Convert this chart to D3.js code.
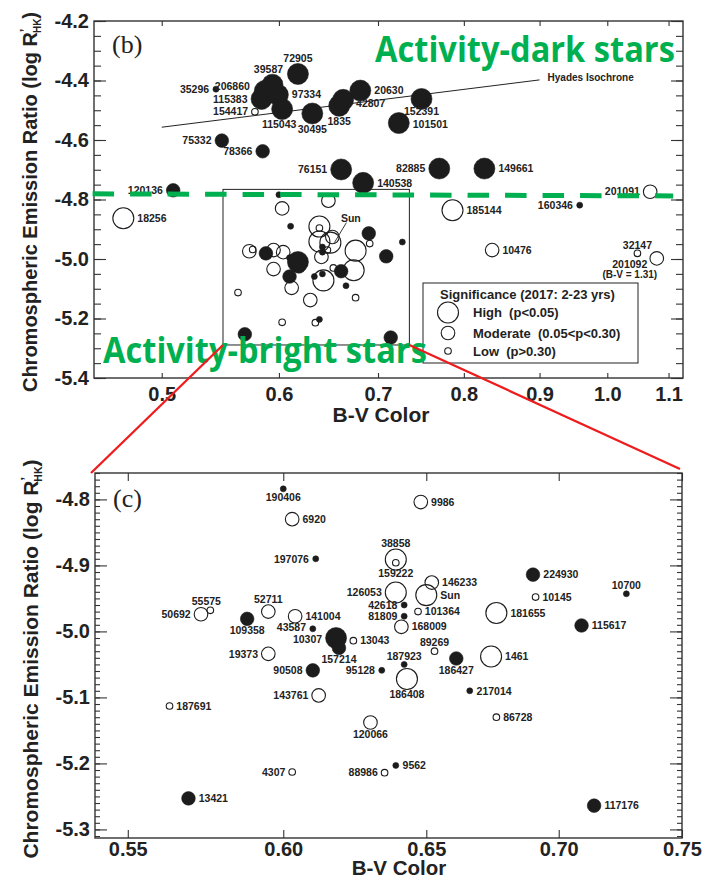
<!DOCTYPE html>
<html>
<head>
<meta charset="utf-8">
<script src="https://cdn.jsdelivr.net/npm/d3@7"></script>
<style>
  html, body { margin: 0; padding: 0; background: #fff; }
  svg { display: block; }
</style>
</head>
<body>
<svg id="chart" width="704" height="879"></svg>
<script>
// ---------- Panel (b): full sample outside the zoom window ----------
const starsB  = ["72905","39587","206860","35296","115383","97334","154417","115043","30495","1835",
                 "42807","20630","152391","101501","75332","78366","76151","140538","82885","149661",
                 "120136","201091","160346","185144","10476","32147","201092","18256"];
const bvB     = [0.618,0.594,0.587,0.544,0.584,0.599,0.578,0.603,0.632,0.659,
                 0.663,0.681,0.749,0.723,0.549,0.585,0.661,0.684,0.770,0.826,
                 0.509,1.069,0.958,0.786,0.836,1.048,1.080,0.471];
const logRB   = [-4.378,-4.414,-4.435,-4.429,-4.462,-4.448,-4.505,-4.496,-4.511,-4.485,
                 -4.465,-4.434,-4.462,-4.543,-4.602,-4.638,-4.699,-4.744,-4.696,-4.696,
                 -4.769,-4.774,-4.819,-4.836,-4.970,-4.981,-4.998,-4.863];
const sigB    = ["H","H","H","L","H","H","L","H","H","H",
                 "H","H","H","H","M","M","H","H","H","H",
                 "M","M","L","H","M","L","M","H"];
const filledB = [1,1,1,1,1,1,0,1,1,1, 1,1,1,1,1,1,1,1,1,1, 1,0,1,0,0,0,0,0];

// ---------- Panel (c): stars inside the zoom window ----------
const starsC  = ["190406","6920","9986","197076","38858","159222","146233","224930","10700","55575",
                 "50692","52711","126053","Sun","10145","141004","42618","101364","181655","115617",
                 "109358","43587","81809","168009","10307","13043","157214","19373","89269","187923",
                 "186427","1461","90508","95128","186408","217014","143761","187691","86728","120066",
                 "4307","88986","9562","13421","117176"];
const bvC     = [0.600,0.603,0.648,0.611,0.639,0.639,0.652,0.690,0.727,0.576,
                 0.573,0.595,0.639,0.650,0.691,0.604,0.642,0.647,0.676,0.709,
                 0.588,0.610,0.642,0.641,0.618,0.624,0.619,0.595,0.653,0.642,
                 0.661,0.674,0.610,0.634,0.643,0.666,0.612,0.563,0.676,0.630,
                 0.603,0.635,0.639,0.569,0.714];
const logRC   = [-4.784,-4.830,-4.804,-4.890,-4.891,-4.896,-4.926,-4.914,-4.943,-4.968,
                 -4.974,-4.970,-4.941,-4.945,-4.948,-4.977,-4.960,-4.970,-4.972,-4.991,
                 -4.981,-4.996,-4.977,-4.993,-5.010,-5.014,-5.025,-5.034,-5.030,-5.050,
                 -5.041,-5.038,-5.059,-5.059,-5.072,-5.090,-5.097,-5.113,-5.130,-5.138,
                 -5.213,-5.214,-5.203,-5.253,-5.264];
const sigC    = ["L","M","M","L","H","L","M","M","L","L",
                 "M","M","H","H","L","M","L","L","H","M",
                 "M","L","L","M","H","L","M","M","L","L",
                 "M","H","M","L","H","L","M","L","L","M",
                 "L","L","L","M","M"];
const filledC = [1,0,0,1,0,0,0,1,1,0, 0,0,0,0,0,0,1,0,0,1, 1,1,1,0,1,0,1,0,0,1,
                 1,0,1,1,0,1,0,0,0,0, 0,0,1,1,1];

// ---------- Axes and reference lines ----------
const ticksBX = [0.5, 0.6, 0.7, 0.8, 0.9, 1.0, 1.1];
const ticksBY = [-4.2, -4.4, -4.6, -4.8, -5.0, -5.2, -5.4];
const ticksCX = [0.55, 0.60, 0.65, 0.70, 0.75];
const ticksCY = [-4.8, -4.9, -5.0, -5.1, -5.2, -5.3];
const hyadesBV   = [0.50, 0.90];
const hyadesLogR = [-4.557, -4.398];
const thresholdBV   = [0.449, 1.108];
const thresholdLogR = [-4.781, -4.788];
const windowBV   = [0.55, 0.735];
const windowLogR = [-4.766, -5.289];
const sigLevels = ["H", "M", "L"];
const legendTitle = "Significance (2017: 2-23 yrs)";
const legendLabels = ["High\u00a0\u00a0(p<0.05)", "Moderate\u00a0\u00a0(0.05<p<0.30)", "Low\u00a0\u00a0(p>0.30)"];

// ---------- Label placement (side, dx, dy) ----------
const placeB = {
  "72905":["a"], "39587":["a",-4,0], "206860":["l",-1,-5], "35296":["l"], "115383":["l"],
  "97334":["r"], "154417":["l"], "115043":["b",-3,0], "30495":["b"], "1835":["b"],
  "42807":["r",-1,3], "20630":["r"], "152391":["b",0,-2.5], "101501":["r",0,1], "75332":["l"],
  "78366":["l"], "76151":["l"], "140538":["r"], "82885":["l"], "149661":["r"],
  "120136":["l"], "201091":["l"], "160346":["l"], "185144":["r"], "10476":["r"],
  "32147":["a"], "201092":["b",-27,-6], "18256":["r"]
};
const placeC = {
  "190406":["b"], "6920":["r"], "9986":["r"], "197076":["l"], "38858":["a"],
  "159222":["b",0,2], "146233":["r"], "224930":["r"], "10700":["a"], "55575":["a",-4,0],
  "50692":["l"], "52711":["a"], "126053":["l"], "Sun":["r"], "10145":["r"],
  "141004":["r"], "42618":["l"], "101364":["r"], "181655":["r"], "115617":["r"],
  "109358":["b"], "43587":["l",0,-1.5], "81809":["l"], "168009":["r"], "10307":["l",0,1],
  "13043":["r"], "157214":["b"], "19373":["l"], "89269":["a"], "187923":["a"],
  "186427":["b"], "1461":["r"], "90508":["l"], "95128":["l"], "186408":["b"],
  "217014":["r"], "143761":["l"], "187691":["r"], "86728":["r"], "120066":["b"],
  "4307":["l"], "88986":["l"], "9562":["r"], "13421":["r"], "117176":["r"]
};

const FONT = '"Liberation Sans", Arial, Helvetica, sans-serif';
const INK = "#1c1c1c";
const GREEN = "#00b050";
const RED = "#ee1c1c";

const svg = d3.select("#chart");
const radius = d3.scaleOrdinal().domain(sigLevels).range([10.5, 6.8, 3.3]);

// Scales (B-V axes are logarithmic)
const xB = d3.scaleLog().domain([0.45, 1.125]).range([94, 683]);
const yB = d3.scaleLinear().domain([-4.2, -5.4]).range([21, 378]);
const xC = d3.scaleLog().domain([0.54, 0.75]).range([95, 682]);
const yC = d3.scaleLinear().domain([-4.76, -5.313]).range([473, 838]);

function styleAxis(sel, size) {
  sel.select(".domain").remove();
  sel.selectAll("line").attr("stroke", "#333").attr("stroke-width", 1.1);
  sel.selectAll("text").attr("font-family", FONT).attr("font-weight", "bold")
     .attr("font-size", size).attr("fill", "#222");
}

function drawFrame(g, x, y, o) {
  const [x0, x1] = x.range(), [y0, y1] = y.range();
  const minor = y.ticks(o.minorCount);
  const add = (tr, axis) => g.append("g").attr("transform", tr).call(axis).call(styleAxis, o.fontSize);
  add(`translate(${x0},0)`, d3.axisLeft(y).tickValues(minor).tickSize(-o.yMinor).tickFormat(""));
  add(`translate(${x0},0)`, d3.axisLeft(y).tickValues(o.yTicks).tickSize(-o.yMajor).tickPadding(5)
        .tickFormat(d => d.toFixed(1)));
  add(`translate(${x1},0)`, d3.axisRight(y).tickValues(minor).tickSize(-o.yMinor).tickFormat(""));
  add(`translate(${x1},0)`, d3.axisRight(y).tickValues(o.yTicks).tickSize(-o.yMajor).tickFormat(""));
  add(`translate(0,${y0})`, d3.axisTop(x).tickValues(o.xTicks).tickSize(-o.xLen).tickFormat(""));
  add(`translate(0,${y1})`, d3.axisBottom(x).tickValues(o.xTicks).tickSize(-o.xLen).tickPadding(o.xPad)
        .tickFormat(d => d.toFixed(o.xDigits)));
  g.append("rect").attr("x", x0).attr("y", y0).attr("width", x1 - x0).attr("height", y1 - y0)
    .attr("fill", "none").attr("stroke", "#333").attr("stroke-width", 1.4);
}

function drawPoints(g, x, y, bv, logR, sig, filled, r) {
  const idx = d3.range(bv.length).sort((a, b) => filled[b] - filled[a]);
  g.selectAll(null).data(idx).join("circle")
    .attr("cx", i => x(bv[i])).attr("cy", i => y(logR[i]))
    .attr("r", i => r(sig[i]) - (filled[i] && sig[i] === "L" ? 0.3 : 0))
    .attr("fill", i => filled[i] ? INK : "none")
    .attr("stroke", INK).attr("stroke-width", i => filled[i] ? 0.6 : 1.1);
}

function drawLabels(g, x, y, ids, bv, logR, sig, place) {
  ids.forEach((id, i) => {
    const [side, dx = 0, dy = 0] = place[id] || ["r"];
    const cx = x(bv[i]), cy = y(logR[i]), r = radius(sig[i]);
    let tx = cx, ty = cy + 3.7, anchor = "middle";
    if (side === "r") { tx = cx + r + 3.5; anchor = "start"; }
    if (side === "l") { tx = cx - r - 3.5; anchor = "end"; }
    if (side === "a") { ty = cy - r - 1.5; }
    if (side === "b") { ty = cy + r + 8.5; }
    g.append("text").attr("x", tx + dx).attr("y", ty + dy).attr("text-anchor", anchor)
      .attr("font-family", FONT).attr("font-weight", "bold").attr("font-size", 10.5)
      .attr("fill", "#222").text(id);
  });
}

function yTitle(g, cx, cy, size) {
  const t = g.append("text").attr("transform", `translate(${cx},${cy}) rotate(-90)`)
    .attr("text-anchor", "middle").attr("font-family", FONT).attr("font-weight", "bold")
    .attr("font-size", size).attr("fill", "#222");
  t.append("tspan").text("Chromospheric Emission Ratio (log R");
  t.append("tspan").attr("dy", -size * 0.38).attr("font-size", size * 0.6).text("\u2019");
  t.append("tspan").attr("dx", -size * 0.22).attr("dy", size * 0.58).attr("font-size", size * 0.5).text("HK");
  t.append("tspan").attr("dy", -size * 0.2).text(")");
}

// Green annotation squeezed horizontally to a given width
function annot(g, txt, x, y, width) {
  const t = g.append("text").attr("x", 0).attr("y", 0)
    .attr("font-family", '"Open Sans", "Noto Sans", sans-serif').attr("font-weight", "bold")
    .attr("font-size", 36).attr("fill", GREEN).text(txt);
  const w = t.node().getComputedTextLength() || width;
  t.attr("transform", `translate(${x},${y}) scale(${width / w},1)`);
}

// ================= Panel (b) =================
const gB = svg.append("g");
drawFrame(gB, xB, yB, { yTicks: ticksBY, xTicks: ticksBX, minorCount: 24, yMajor: 12, yMinor: 7,
                        xLen: 5, xPad: 9, xDigits: 1, fontSize: 20 });

// zoom window with the panel (c) stars
gB.append("rect")
  .attr("x", xB(windowBV[0])).attr("y", yB(windowLogR[0]))
  .attr("width", xB(windowBV[1]) - xB(windowBV[0])).attr("height", yB(windowLogR[1]) - yB(windowLogR[0]))
  .attr("fill", "none").attr("stroke", "#222").attr("stroke-width", 1);
drawPoints(gB.append("g"), xB, yB, bvC, logRC, sigC, filledC, radius);
const sunI = starsC.indexOf("Sun");
const sx = xB(bvC[sunI]), sy = yB(logRC[sunI]);
gB.append("line").attr("x1", sx + 4).attr("y1", sy).attr("x2", sx + 16).attr("y2", sy - 20)
  .attr("stroke", "#222").attr("stroke-width", 0.9);
gB.append("text").attr("x", sx + 10.5).attr("y", sy - 21).attr("font-family", FONT)
  .attr("font-weight", "bold").attr("font-size", 10.5).attr("fill", "#222").text("Sun");

// Hyades isochrone
gB.append("line").attr("x1", xB(hyadesBV[0])).attr("y1", yB(hyadesLogR[0]))
  .attr("x2", xB(hyadesBV[1])).attr("y2", yB(hyadesLogR[1]))
  .attr("stroke", "#222").attr("stroke-width", 1);
gB.append("text").attr("x", xB(hyadesBV[1]) + 8).attr("y", yB(hyadesLogR[1]) + 1.5)
  .attr("font-family", FONT).attr("font-weight", "bold").attr("font-size", 10)
  .attr("fill", "#222").text("Hyades Isochrone");

drawPoints(gB.append("g"), xB, yB, bvB, logRB, sigB, filledB, radius);
drawLabels(gB.append("g"), xB, yB, starsB, bvB, logRB, sigB, placeB);
{
  const i = starsB.indexOf("201092");
  gB.append("text").attr("x", xB(bvB[i]) - 27).attr("y", yB(logRB[i]) + radius(sigB[i]) + 13)
    .attr("text-anchor", "middle").attr("font-family", FONT).attr("font-weight", "bold")
    .attr("font-size", 10).attr("fill", "#222").text("(B-V = 1.31)");
}

// Legend
const lg = gB.append("g").attr("transform", "translate(423,283)");
lg.append("rect").attr("width", 215).attr("height", 80).attr("fill", "#fff")
  .attr("stroke", "#222").attr("stroke-width", 1);
lg.append("text").attr("x", 17).attr("y", 15.5).attr("font-family", FONT).attr("font-weight", "bold")
  .attr("font-size", 13).attr("fill", "#222").text(legendTitle);
const rowY = [29.5, 50, 68];
sigLevels.forEach((s, k) => {
  lg.append("circle").attr("cx", 25).attr("cy", rowY[k]).attr("r", radius(s))
    .attr("fill", "none").attr("stroke", INK).attr("stroke-width", 1.1);
  lg.append("text").attr("x", 50).attr("y", rowY[k] + 4.5).attr("font-family", FONT)
    .attr("font-weight", "bold").attr("font-size", 13).attr("fill", "#222").text(legendLabels[k]);
});

// Activity threshold
gB.append("line").attr("x1", xB(thresholdBV[0])).attr("y1", yB(thresholdLogR[0]))
  .attr("x2", xB(thresholdBV[1])).attr("y2", yB(thresholdLogR[1]))
  .attr("stroke", GREEN).attr("stroke-width", 5).attr("stroke-dasharray", "21.5,16");

annot(gB, "Activity-dark stars", 375, 61.5, 300);
annot(gB, "Activity-bright stars", 103, 363, 324);

gB.append("text").attr("x", 112).attr("y", 53).attr("font-family", '"Liberation Serif", "Times New Roman", serif')
  .attr("font-size", 26).attr("fill", "#222").text("(b)");
yTitle(gB, 37, 202, 20);
gB.append("text").attr("x", 381).attr("y", 422).attr("text-anchor", "middle")
  .attr("font-family", FONT).attr("font-weight", "bold").attr("font-size", 21).attr("fill", "#222").text("B-V Color");

// ================= Panel (c) =================
const gC = svg.append("g");
drawFrame(gC, xC, yC, { yTicks: ticksCY, xTicks: ticksCX, minorCount: 55, yMajor: 12, yMinor: 5,
                        xLen: 8, xPad: 4, xDigits: 2, fontSize: 20 });
drawPoints(gC.append("g"), xC, yC, bvC, logRC, sigC, filledC, radius);
drawLabels(gC.append("g"), xC, yC, starsC, bvC, logRC, sigC, placeC);
gC.append("text").attr("x", 113).attr("y", 507).attr("font-family", '"Liberation Serif", "Times New Roman", serif')
  .attr("font-size", 26).attr("fill", "#222").text("(c)");
yTitle(gC, 38, 659, 21);
gC.append("text").attr("x", 399).attr("y", 874.5).attr("text-anchor", "middle")
  .attr("font-family", FONT).attr("font-weight", "bold").attr("font-size", 20.5).attr("fill", "#222").text("B-V Color");

// Zoom connectors
const [cx0, cx1] = xC.range(), cy0 = yC.range()[0];
const connectors = [
  [xB(windowBV[0]), yB(windowLogR[1]), cx0 - 4, cy0],
  [xB(windowBV[1]), yB(windowLogR[1]), cx1 - 2, cy0 - 4]
];
svg.selectAll(null).data(connectors).join("line")
  .attr("x1", d => d[0]).attr("y1", d => d[1]).attr("x2", d => d[2]).attr("y2", d => d[3])
  .attr("stroke", RED).attr("stroke-width", 2.3);
</script>
</body>
</html>
